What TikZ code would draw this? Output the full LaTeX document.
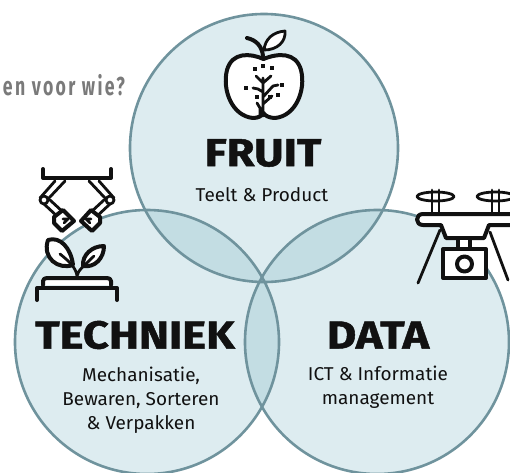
\documentclass[tikz,border=0pt]{standalone}
\usepackage{fontspec}
\setmainfont[FakeStretch=1.02]{Fira Sans}
\newfontfamily\headfont[FakeStretch=1.16,FakeBold=1.2]{Fira Sans}
\newfontfamily\greyfont[FakeStretch=0.68,LetterSpace=9]{Fira Sans}
\definecolor{cfill}{HTML}{DDECF0}
\definecolor{cedge}{HTML}{6F939D}
\definecolor{cover}{HTML}{C3DDE3}
\definecolor{ink}{HTML}{111111}
\tikzset{
 ring/.style={draw=cedge,line width=2.6pt},
 icon/.style={draw=ink,line width=4pt,line cap=round,line join=round},
 thin/.style={draw=ink,line width=2.8pt,line cap=round,line join=round},
 title/.style={font=\headfont\bfseries\fontsize{39}{39}\selectfont,text=ink,inner sep=0pt},
 sub/.style={font=\fontsize{18.6}{24}\selectfont,text=ink,align=center,inner sep=0pt}
}
\begin{document}
\begin{tikzpicture}[x=1pt,y=-1pt]
\useasboundingbox (0,0) rectangle (510,472);
\def\cirT{(264,148) circle (134)}
\def\cirL{(147,342) circle (132)}
\def\cirR{(377,342) circle (132)}
\fill[cfill] \cirT; \fill[cfill] \cirL; \fill[cfill] \cirR;
\begin{scope}\clip \cirT; \fill[cover] \cirL; \fill[cover] \cirR;\end{scope}
\begin{scope}\clip \cirL; \fill[cover] \cirR;\end{scope}
\draw[ring] \cirT; \draw[ring] \cirL; \draw[ring] \cirR;
\node[font=\greyfont\bfseries\fontsize{26}{26}\selectfont,text=black!52,anchor=east,inner sep=0pt] (q) at (125,85) {en voor wie?};
% apple
\path[icon,fill=white] (263.5,59) .. controls (250,53) and (232,52) .. (227,70) .. controls (222,90) and (232,116) .. (253,118) .. controls (258,118) and (262,116) .. (263.5,113) .. controls (265,116) and (270,118) .. (275,118) .. controls (296,116) and (306,90) .. (301,70) .. controls (296,52) and (278,53) .. (263.5,59) -- cycle;
\draw[icon] (263,56) .. controls (262,46) and (256,40) .. (247,38);
\draw[thin,fill=white] (264,50) .. controls (265,39) and (273,32) .. (285,31) .. controls (286,42) and (277,50) .. (264,50) -- cycle;
\draw[thin] (263,116) -- (263,78) (263,83) -- (256,76) (263,83) -- (271,76) (263,92) -- (258,89) -- (253,88) (263,97) -- (273,86) -- (278,85) (263,104) -- (272,96) (257,103) -- (260,108) -- (260,116);
\foreach \x/\y in {255/69,263/66,272/68,246/88,282/85,278/95,257/97,270/97}{\fill[ink] (\x-1.7,\y-1.7) rectangle (\x+1.7,\y+1.7);}
% robot arm
\draw[icon] (43,169) -- (43,178) -- (111,178) -- (111,169);
\draw[thin] (55,181) -- (40,198) (65,181) -- (49,198);
\draw[thin] (99,181) -- (114,198) (89,181) -- (105,198);
\draw[thin] (44,204) -- (58,217) (50,200) -- (63,212);
\draw[thin] (110,204) -- (96,217) (104,200) -- (91,212);
\draw[thin,fill=white] (44,200) circle (4) (110,200) circle (4);
\draw[icon,fill=white] (54,217) -- (63,210) -- (74,221) -- (62,231) -- (54,223) -- cycle;
\draw[icon,fill=white] (100,217) -- (91,210) -- (81,221) -- (92,231) -- (100,223) -- cycle;
\draw[thin] (63,219) -- (68,219) -- (64,223) (91,219) -- (86,219) -- (90,223);
% plant
\draw[icon,fill=white] (48,240) .. controls (60,236) and (71,248) .. (73,265) .. controls (58,270) and (42,258) .. (48,240) -- cycle;
\draw[icon,fill=white] (104,246) .. controls (104,258) and (95,268) .. (83,266) .. controls (82,255) and (92,246) .. (104,246) -- cycle;
\draw[thin] (77,276) .. controls (76,268) and (70,262) .. (60,254) (77,276) .. controls (78,270) and (84,266) .. (94,256);
\draw[icon,fill=white] (43,285) -- (43,281) .. controls (43,279) and (45,278) .. (47,278) -- (107,278) .. controls (109,278) and (111,279) .. (111,281) -- (111,285);
\draw[icon] (37,300) -- (37,288) -- (117,288) -- (117,300);
% drone
\draw[thin] (435.5,196.5) ellipse (18.5 and 4.5);
\draw[thin] (495.5,196.5) ellipse (18.5 and 4.5);
\draw[thin] (432,190) -- (432,214) (439,190) -- (439,214);
\draw[thin] (492,190) -- (492,214) (499,190) -- (499,214);
\draw[thin] (440,230) -- (418,283);
\draw[thin] (490,232) -- (508,280);
\draw[icon,fill=white] (511,214) -- (423,214) .. controls (415,214) and (415,225) .. (423,225) -- (441,225) -- (446,238) -- (484,238) -- (489,225) -- (511,225);
\draw[icon,fill=white] (458,238) rectangle (470,249);
\draw[icon,fill=white] (443,249) rectangle (486,278);
\draw[icon] (464.5,264) circle (7.5);
% text
\node[title] (fruit) at (263,153) {FRUIT};
\node[sub] (fruits) at (262,195) {Teelt \& Product};
\node[title] (tech) at (135,335) {TECHNIEK};
\node[sub] (techs) at (141,400) {Mechanisatie,\\Bewaren, Sorteren\\\& Verpakken};
\node[title] (data) at (378,335) {DATA};
\node[sub] (datas) at (378,387) {ICT \& Informatie\\management};
\end{tikzpicture}
\end{document}
